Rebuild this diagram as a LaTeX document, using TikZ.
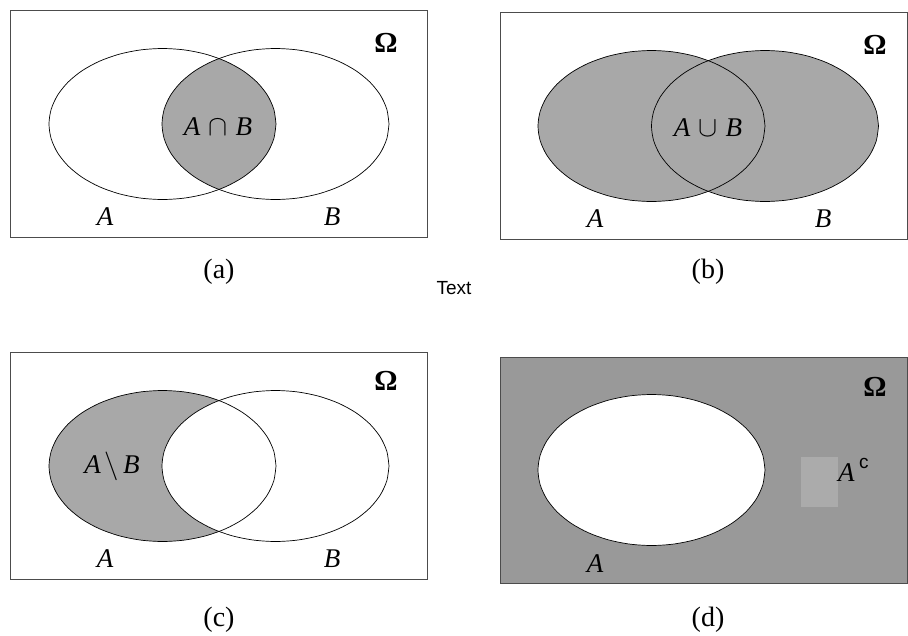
\documentclass[tikz,border=0pt]{standalone}
\usepackage{fontspec}
\usepackage{graphicx}
\setmainfont{Liberation Serif}
\newfontfamily\labsans{Liberation Sans}
\begin{document}
\begin{tikzpicture}[x=1pt,y=-1pt,
  frame/.style={draw=black!70, line width=0.8pt},
  setline/.style={draw=black, line width=0.7pt},
  lab/.style={inner sep=0pt, font=\fontsize{27}{30}\selectfont\itshape},
  omega/.style={inner sep=0pt, font=\fontsize{29}{32}\selectfont\bfseries},
  subcap/.style={inner sep=0pt, font=\fontsize{28}{32}\selectfont},
  shade/.style={fill=black!34}]
\def\ell(#1,#2){plot[smooth=false, samples=33, domain=0:360, variable=\t] ({#1+113.5*cos(\t)},{#2+75.5*sin(\t)}) -- cycle}
\newcommand\bigop[2]{\kern#1pt\scalebox{1.15}{$#2$}\kern#1pt}
\useasboundingbox (0,0) rectangle (908,635);
% ---------- (a) ----------
\draw[frame] (10,10) rectangle (427,237);
\begin{scope}
  \clip \ell(162.5,124);
  \fill[shade] \ell(275.5,124);
\end{scope}
\draw[setline] \ell(162.5,124);
\draw[setline] \ell(275.5,124);
\node[omega] (oa) at (386,43) {Ω};
\node[lab] (aa) at (105,217) {A};
\node[lab] (ba) at (332,217) {B};
\node[lab] (ia) at (218,127) {A\bigop{8}{\cap}B};
\node[subcap] (ca) at (219,272) {(a)};
% ---------- (b) ----------
\draw[frame] (500,12) rectangle (907.5,239);
\fill[shade] \ell(651.5,126);
\fill[shade] \ell(765,126);
\draw[setline] \ell(651.5,126);
\draw[setline] \ell(765,126);
\node[omega] (ob) at (875,45) {Ω};
\node[lab] (ab) at (595,219) {A};
\node[lab] (bb) at (823,219) {B};
\node[lab] (ub) at (708,128) {A\bigop{8}{\cup}B};
\node[subcap] (cb) at (708,272) {(b)};
% ---------- Text ----------
\node[inner sep=0pt, font=\labsans\fontsize{19}{22}\selectfont] (txt) at (454,288) {Text};
% ---------- (c) ----------
\draw[frame] (10,352) rectangle (427,579);
\fill[shade] \ell(162.5,466);
\fill[white] \ell(275.5,466);
\draw[setline] \ell(162.5,466);
\draw[setline] \ell(275.5,466);
\node[omega] (oc) at (386,381) {Ω};
\node[lab] (ac) at (105,559) {A};
\node[lab] (bc) at (332,559) {B};
\node[lab] (dc) at (112,466) {A\bigop{4}{\setminus}B};
\node[subcap] (cc) at (219,620) {(c)};
% ---------- (d) ----------
\fill[black!40] (500,357) rectangle (907.5,583);
\draw[frame] (500,357) rectangle (907.5,583);
\fill[white] \ell(651.5,470);
\draw[setline] \ell(651.5,470);
\fill[black!33] (801,457) rectangle (838,507);
\node[lab, anchor=base west] (acd) at (838,481) {A\raisebox{13pt}{\,\upshape\labsans\fontsize{19}{22}\selectfont c}};
\node[omega] (od) at (875,387) {Ω};
\node[lab] (ad) at (595,564) {A};
\node[subcap] (cd) at (708,620) {(d)};
\end{tikzpicture}
\end{document}
